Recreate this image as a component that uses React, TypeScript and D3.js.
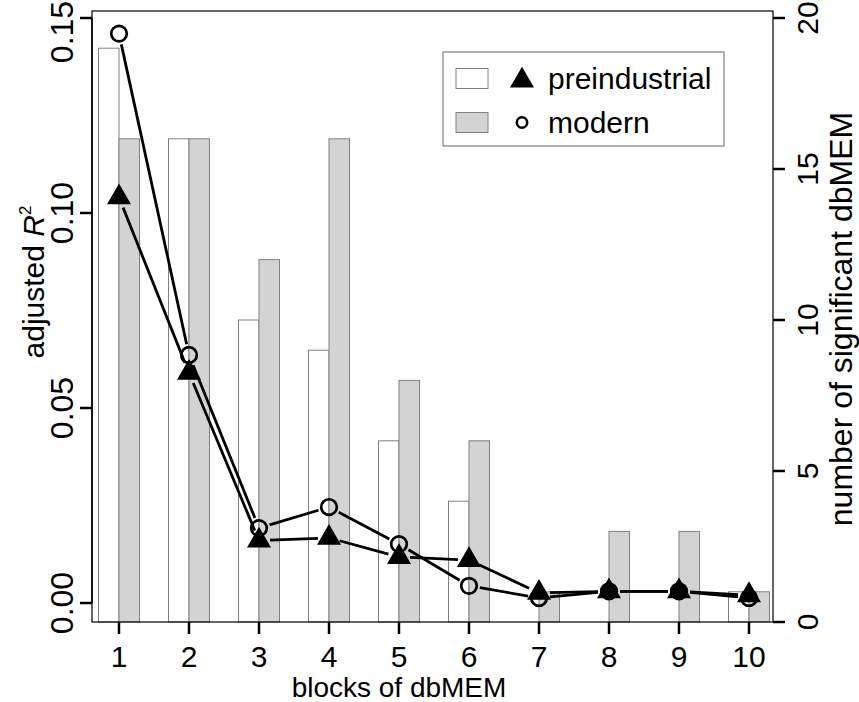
import React, { useRef, useEffect } from 'react';
import * as d3 from 'd3';

// values
const blocks = [1, 2, 3, 4, 5, 6, 7, 8, 9, 10];
const countPre = [19, 16, 10, 9, 6, 4, 0, 0, 0, 1];
const countMod = [16, 16, 12, 16, 8, 6, 1, 3, 3, 1];
const r2Pre = [0.104, 0.059, 0.016, 0.0167, 0.0118, 0.011, 0.0026, 0.003, 0.003, 0.002];
const r2Mod = [0.146, 0.0636, 0.0192, 0.0246, 0.0151, 0.0044, 0.0013, 0.003, 0.003, 0.0013];
const leftTicks = [0, 0.05, 0.1, 0.15];
const rightTicks = [0, 5, 10, 15, 20];
const seriesNames = ['preindustrial', 'modern'];

const W = 859;
const H = 702;
const FONT = "'Liberation Sans', Arial, Helvetica, sans-serif";

const App = () => {
  const svgRef = useRef<SVGSVGElement>(null);

  useEffect(() => {
    document.body.style.margin = '0';
    const svg = d3.select(svgRef.current);
    svg.selectAll('*').remove();

    const box = { left: 92, right: 773, top: 11, bottom: 622 };

    const x = d3.scaleLinear().domain([1, 10]).range([119, 749]);
    const yL = d3.scaleLinear().domain([0, 0.15]).range([603, 18]);
    const yR = d3.scaleLinear().domain([0, 20]).range([box.bottom, 18]);
    const barW = 20.5;

    // bars (right axis)
    svg.append('g')
      .selectAll('rect')
      .data(blocks)
      .join('rect')
      .attr('x', (d) => x(d) - barW)
      .attr('y', (d, i) => yR(countPre[i]))
      .attr('width', barW)
      .attr('height', (d, i) => yR(0) - yR(countPre[i]))
      .attr('fill', '#ffffff')
      .attr('stroke', '#808080')
      .attr('stroke-width', 1);

    svg.append('g')
      .selectAll('rect')
      .data(blocks)
      .join('rect')
      .attr('x', (d) => x(d))
      .attr('y', (d, i) => yR(countMod[i]))
      .attr('width', barW)
      .attr('height', (d, i) => yR(0) - yR(countMod[i]))
      .attr('fill', '#d3d3d3')
      .attr('stroke', '#808080')
      .attr('stroke-width', 1);

    // box
    svg.append('rect')
      .attr('x', box.left)
      .attr('y', box.top)
      .attr('width', box.right - box.left)
      .attr('height', box.bottom - box.top)
      .attr('fill', 'none')
      .attr('stroke', '#000')
      .attr('stroke-width', 1.2);

    // lines with gaps at the points (type = "b")
    const gap = 11;
    const drawGapLine = (vals: number[]) => {
      const pts = blocks.map((b, i) => [x(b), yL(vals[i])]);
      const g = svg.append('g');
      for (let i = 0; i < pts.length - 1; i++) {
        const [x1, y1] = pts[i];
        const [x2, y2] = pts[i + 1];
        const len = Math.hypot(x2 - x1, y2 - y1);
        if (len <= 2 * gap) continue;
        const ux = (x2 - x1) / len;
        const uy = (y2 - y1) / len;
        g.append('line')
          .attr('x1', x1 + ux * gap)
          .attr('y1', y1 + uy * gap)
          .attr('x2', x2 - ux * gap)
          .attr('y2', y2 - uy * gap)
          .attr('stroke', '#000')
          .attr('stroke-width', 2.8);
      }
    };
    drawGapLine(r2Mod);
    drawGapLine(r2Pre);

    // modern: open circles
    svg.append('g')
      .selectAll('circle')
      .data(blocks)
      .join('circle')
      .attr('cx', (d) => x(d))
      .attr('cy', (d, i) => yL(r2Mod[i]))
      .attr('r', 7.8)
      .attr('fill', 'none')
      .attr('stroke', '#000')
      .attr('stroke-width', 2.7);

    // preindustrial: filled triangles
    const tri = d3.symbol(d3.symbolTriangle, 250);
    svg.append('g')
      .selectAll('path')
      .data(blocks)
      .join('path')
      .attr('d', tri)
      .attr('transform', (d, i) => `translate(${x(d)},${yL(r2Pre[i])})`)
      .attr('fill', '#000');

    // left axis
    const gL = svg.append('g').attr('font-family', FONT);
    gL.append('line')
      .attr('x1', box.left).attr('x2', box.left)
      .attr('y1', yL(0)).attr('y2', yL(0.15))
      .attr('stroke', '#000').attr('stroke-width', 1.5);
    leftTicks.forEach((t) => {
      gL.append('line')
        .attr('x1', box.left - 12).attr('x2', box.left)
        .attr('y1', yL(t)).attr('y2', yL(t))
        .attr('stroke', '#000').attr('stroke-width', 2.5);
      // keep the top label inside the picture, as in the reference
      const cy = Math.max(yL(t), 32);
      gL.append('text')
        .attr('transform', `translate(73,${cy}) rotate(-90)`)
        .attr('text-anchor', 'middle')
        .attr('font-size', 32)
        .text(d3.format('.2f')(t));
    });
    const lt = gL.append('text')
      .attr('transform', `translate(44,282) rotate(-90)`)
      .attr('text-anchor', 'middle')
      .attr('font-size', 30);
    lt.append('tspan').text('adjusted ');
    lt.append('tspan').attr('font-style', 'italic').text('R');
    lt.append('tspan').attr('font-size', 17).attr('dy', -13).text('2');

    // right axis
    const gR = svg.append('g').attr('font-family', FONT);
    rightTicks.forEach((t) => {
      gR.append('line')
        .attr('x1', box.right).attr('x2', box.right + 12)
        .attr('y1', yR(t)).attr('y2', yR(t))
        .attr('stroke', '#000').attr('stroke-width', 2.5);
      gR.append('text')
        .attr('transform', `translate(818,${yR(t)}) rotate(-90)`)
        .attr('text-anchor', 'middle')
        .attr('font-size', 30)
        .text(String(t));
    });
    gR.append('text')
      .attr('transform', `translate(852,319) rotate(-90)`)
      .attr('text-anchor', 'middle')
      .attr('font-size', 32)
      .text('number of significant dbMEM');

    // bottom axis
    const gB = svg.append('g').attr('font-family', FONT);
    blocks.forEach((b) => {
      gB.append('line')
        .attr('x1', x(b)).attr('x2', x(b))
        .attr('y1', box.bottom).attr('y2', box.bottom + 12)
        .attr('stroke', '#000').attr('stroke-width', 2.5);
      gB.append('text')
        .attr('x', x(b))
        .attr('y', 667)
        .attr('text-anchor', 'middle')
        .attr('font-size', 30)
        .text(String(b));
    });
    gB.append('text')
      .attr('x', x(5))
      .attr('y', 697)
      .attr('text-anchor', 'middle')
      .attr('font-size', 28)
      .text('blocks of dbMEM');

    // legend
    const lg = svg.append('g').attr('font-family', FONT);
    lg.append('rect')
      .attr('x', 443).attr('y', 52)
      .attr('width', 281).attr('height', 94)
      .attr('fill', '#fff')
      .attr('stroke', '#666')
      .attr('stroke-width', 1);
    const rowY = [78.5, 122.5];
    seriesNames.forEach((name, i) => {
      lg.append('rect')
        .attr('x', 456).attr('y', rowY[i] - 10)
        .attr('width', 32).attr('height', 20)
        .attr('fill', i === 0 ? '#fff' : '#d3d3d3')
        .attr('stroke', '#808080');
      if (i === 0) {
        lg.append('path')
          .attr('d', tri)
          .attr('transform', `translate(522,${rowY[i] + 2})`)
          .attr('fill', '#000');
      } else {
        lg.append('circle')
          .attr('cx', 522).attr('cy', rowY[i])
          .attr('r', 5.2)
          .attr('fill', 'none')
          .attr('stroke', '#000')
          .attr('stroke-width', 2.6);
      }
      lg.append('text')
        .attr('x', 548)
        .attr('y', rowY[i] + 10)
        .attr('font-size', 30)
        .text(name);
    });
  }, []);

  return <svg ref={svgRef} width={W} height={H} style={{ display: 'block', background: '#fff' }} />;
};

export default App;
